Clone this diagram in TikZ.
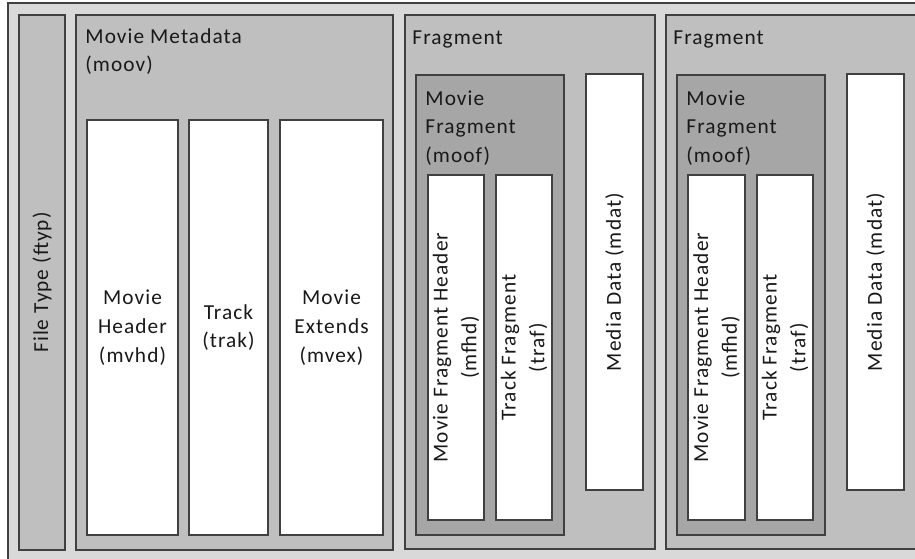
\documentclass[tikz,border=0pt]{standalone}
\usepackage{fontspec}
\setmainfont{Carlito}[LetterSpace=5]
\usetikzlibrary{fit}
\begin{document}
\begin{tikzpicture}[x=0.75pt,y=-0.75pt,
  frame/.style={draw=black!75, line width=1.2pt, inner sep=0pt},
  lvl0/.style={frame, fill=black!15},
  lvl1/.style={frame, fill=black!25},
  lvl2/.style={frame, fill=black!35},
  leaf/.style={frame, fill=white},
  txt/.style={font=\fontsize{16}{21.5}\selectfont, text=black!90, inner sep=0pt, align=center},
  ttl/.style={txt, align=left, anchor=north west}
]
\useasboundingbox (0,0) rectangle (915,559);
\begin{scope}
\clip (0,0) rectangle (915,559);
% outer file
\node[lvl0, fit={(8,3) (940,580)}] (file) {};
% ftyp
\node[lvl1, fit={(19,15) (65,550)}] (ftyp) {};
% moov
\node[lvl1, fit={(76,15) (393,550)}] (moov) {};
\node[leaf, fit={(87,120) (178,535)}] (mvhd) {};
\node[leaf, fit={(189,120) (268,535)}] (trak) {};
\node[leaf, fit={(280,120) (383,535)}] (mvex) {};
% fragment 1
\node[lvl1, fit={(405,15) (655,549)}] (fragA) {};
\node[lvl2, fit={(416,75) (564,535)}] (moofA) {};
\node[leaf, fit={(428,175) (484,520)}] (mfhdA) {};
\node[leaf, fit={(496,175) (552,520)}] (trafA) {};
\node[leaf, fit={(586,74) (643,490)}] (mdatA) {};
% fragment 2
\node[lvl1, fit={(666,15) (940,549)}] (fragB) {};
\node[lvl2, fit={(677,75) (825,535)}] (moofB) {};
\node[leaf, fit={(688,175) (745,520)}] (mfhdB) {};
\node[leaf, fit={(757,175) (813,520)}] (trafB) {};
\node[leaf, fit={(847,74) (904,490)}] (mdatB) {};
% texts
\node[txt, rotate=90] (tftyp) at (ftyp.center) {File Type (ftyp)};
\node[ttl] (tmoov) at ([shift={(10,14)}]moov.north west) {Movie Metadata\\(moov)};
\node[txt] (tmvhd) at (mvhd.center) {Movie\\Header\\(mvhd)};
\node[txt] (ttrak) at (trak.center) {Track\\(trak)};
\node[txt] (tmvex) at (mvex.center) {Movie\\Extends\\(mvex)};
\node[ttl] (tfragA) at ([shift={(8,16)}]fragA.north west) {Fragment};
\node[ttl] (tmoofA) at ([shift={(10,16)}]moofA.north west) {Movie\\Fragment\\(moof)};
\node[txt, rotate=90] (tmfhdA) at (mfhdA.center) {Movie Fragment Header\\(mfhd)};
\node[txt, rotate=90] (ttrafA) at (trafA.center) {Track Fragment\\(traf)};
\node[txt, rotate=90] (tmdatA) at (mdatA.center) {Media Data (mdat)};
\node[ttl] (tfragB) at ([shift={(8,16)}]fragB.north west) {Fragment};
\node[ttl] (tmoofB) at ([shift={(10,16)}]moofB.north west) {Movie\\Fragment\\(moof)};
\node[txt, rotate=90] (tmfhdB) at (mfhdB.center) {Movie Fragment Header\\(mfhd)};
\node[txt, rotate=90] (ttrafB) at (trafB.center) {Track Fragment\\(traf)};
\node[txt, rotate=90] (tmdatB) at (mdatB.center) {Media Data (mdat)};
\end{scope}
\end{tikzpicture}
\end{document}
